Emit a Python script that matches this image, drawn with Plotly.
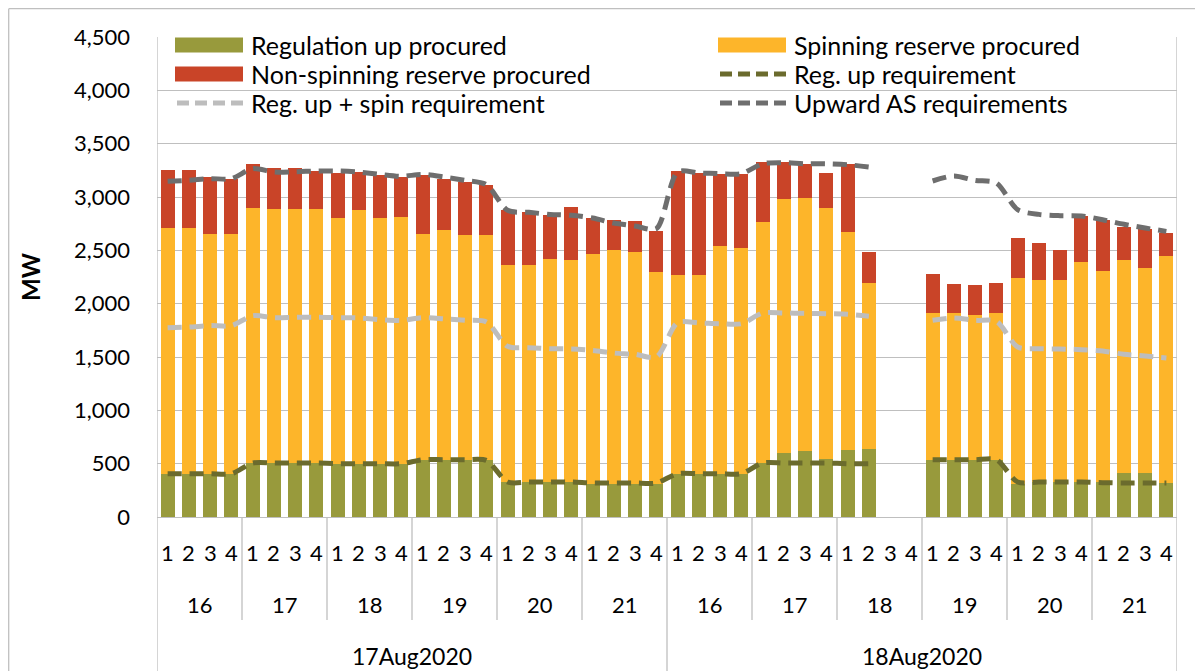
import plotly.graph_objects as go

# ---------------- data ----------------
dates = ["17Aug2020", "18Aug2020"]
hours = ["16", "17", "18", "19", "20", "21"]
intervals = ["1", "2", "3", "4"]

reg_up_procured = [
    400, 400, 400, 400, 506, 506, 506, 506, 500, 500, 500, 500,
    537, 537, 537, 531, 328, 328, 328, 328, 312, 312, 312, 312,
    406, 406, 406, 406, 506, 600, 616, 541, 631, 634, None, None,
    531, 531, 531, 531, 309, 328, 328, 328, 328, 412, 412, 319,
]
spin_procured = [
    2312, 2312, 2253, 2253, 2388, 2381, 2381, 2378, 2300, 2375, 2300, 2312,
    2113, 2150, 2107, 2116, 2038, 2038, 2094, 2084, 2154, 2188, 2172, 1982,
    1860, 1860, 2131, 2113, 2256, 2384, 2378, 2353, 2044, 1560, None, None,
    1381, 1378, 1366, 1381, 1928, 1897, 1897, 2063, 1975, 2000, 1919, 2131,
]
nonspin_procured = [
    538, 538, 537, 516, 418, 382, 388, 360, 425, 356, 409, 372,
    559, 485, 497, 462, 515, 493, 412, 491, 334, 287, 291, 384,
    978, 959, 682, 700, 563, 344, 318, 331, 631, 293, None, None,
    363, 278, 278, 285, 375, 344, 275, 428, 478, 307, 366, 216,
]
reg_up_req = [
    406, 406, 406, 406, 506, 506, 506, 506, 500, 500, 500, 500,
    537, 537, 537, 531, 328, 328, 328, 328, 319, 319, 319, 319,
    406, 406, 406, 406, 506, 506, 506, 506, 500, 500, None, None,
    537, 537, 537, 537, 328, 328, 328, 328, 322, 319, 319, 319,
]
reg_spin_req = [
    1775, 1781, 1794, 1794, 1887, 1869, 1872, 1872, 1869, 1866, 1850, 1844,
    1869, 1859, 1844, 1828, 1600, 1587, 1578, 1575, 1562, 1537, 1525, 1500,
    1822, 1819, 1812, 1812, 1912, 1912, 1909, 1906, 1900, 1881, None, None,
    1844, 1866, 1844, 1834, 1594, 1578, 1575, 1569, 1556, 1525, 1509, 1491,
]
upward_as_req = [
    3147, 3156, 3172, 3172, 3266, 3234, 3237, 3244, 3244, 3234, 3212, 3194,
    3212, 3187, 3156, 3116, 2875, 2856, 2837, 2828, 2803, 2756, 2728, 2703,
    3234, 3225, 3219, 3219, 3312, 3322, 3312, 3312, 3303, 3281, None, None,
    3150, 3197, 3156, 3131, 2881, 2837, 2825, 2822, 2787, 2744, 2709, 2678,
]
y_ticks = [0, 500, 1000, 1500, 2000, 2500, 3000, 3500, 4000, 4500]

# ---------------- styles ----------------
C_GREEN = "#989A3C"
C_ORANGE = "#FDB52A"
C_RED = "#C94428"
C_REQ_REG = "#6B6B2D"
C_REQ_SPIN = "#BDBDBD"
C_REQ_AS = "#6E6E6E"
GRID = "#BFBFBF"
FONT = "Lato"
FS_NUM = 22
FS_TXT = 25

cats = [f"{d}|{h}|{i}" for d in dates for h in hours for i in intervals]
n = len(cats)

fig = go.Figure()
for name, vals, col in [
    ("Regulation up procured", reg_up_procured, C_GREEN),
    ("Spinning reserve procured", spin_procured, C_ORANGE),
    ("Non-spinning reserve procured", nonspin_procured, C_RED),
]:
    fig.add_trace(go.Bar(x=cats, y=vals, name=name, marker=dict(color=col, line=dict(width=0)),
                         showlegend=False))

for name, vals, col in [
    ("Reg. up requirement", reg_up_req, C_REQ_REG),
    ("Reg. up + spin requirement", reg_spin_req, C_REQ_SPIN),
    ("Upward AS requirements", upward_as_req, C_REQ_AS),
]:
    fig.add_trace(go.Scatter(x=cats, y=vals, name=name, mode="lines", connectgaps=False,
                             line=dict(color=col, width=5, dash="14px,8px", shape="spline", smoothing=0.8),
                             showlegend=False))

# page layout (page pixel coordinates; the page body adds an 8px offset)
OFF = 8
PAGE_W, PAGE_H = 1203, 671
W, H = PAGE_W - OFF, PAGE_H - OFF
L, R, T, B = 157, 1177, 37, 517  # plot area in page px
PW, PH = R - L, B - T


def px_x(p):
    return (p - L) / PW


def px_y(p):
    return (B - p) / PH


shapes = []
annotations = []

# x-axis hierarchical labels
for k, c in enumerate(cats):
    annotations.append(dict(x=k, y=px_y(552), xref="x", yref="paper", text=c.split("|")[2],
                            xanchor="center", yanchor="middle",
                            showarrow=False, font=dict(family=FONT, size=FS_NUM, color="#000")))
ng = len(intervals)
for gi in range(len(dates) * len(hours)):
    annotations.append(dict(x=gi * ng + (ng - 1) / 2, y=px_y(604), xref="x", yref="paper",
                            text=hours[gi % len(hours)], showarrow=False,
                            xanchor="center", yanchor="middle",
                            font=dict(family=FONT, size=FS_NUM, color="#000")))
    if gi > 0 and gi % len(hours) != 0:
        shapes.append(dict(type="line", xref="x", yref="paper", x0=gi * ng - 0.5, x1=gi * ng - 0.5,
                           y0=0, y1=px_y(620), line=dict(color=GRID, width=1.3)))
nd = len(hours) * ng
for di, d in enumerate(dates):
    annotations.append(dict(x=di * nd + (nd - 1) / 2, y=px_y(656), xref="x", yref="paper", text=d,
                            xanchor="center", yanchor="middle",
                            showarrow=False, font=dict(family=FONT, size=23, color="#000")))
for di in range(len(dates) + 1):
    xx = di * nd - 0.5
    shapes.append(dict(type="line", xref="x", yref="paper", x0=xx, x1=xx, y0=1 if di in (0, len(dates)) else 0,
                       y1=px_y(PAGE_H + 5), line=dict(color=GRID, width=1.3)))

# outer chart border (top and left)
bx, by = OFF + 0.7, OFF + 0.7
shapes.append(dict(type="line", xref="paper", yref="paper", x0=px_x(bx), x1=px_x(PAGE_W + 5), y0=px_y(by), y1=px_y(by),
                   line=dict(color=GRID, width=1.3)))
shapes.append(dict(type="line", xref="paper", yref="paper", x0=px_x(bx), x1=px_x(bx), y0=px_y(by), y1=px_y(PAGE_H + 5),
                   line=dict(color=GRID, width=1.3)))

# manual legend
legend_items = [
    ("Regulation up procured", "bar", C_GREEN, 175, 45),
    ("Spinning reserve procured", "bar", C_ORANGE, 718, 45),
    ("Non-spinning reserve procured", "bar", C_RED, 175, 74),
    ("Reg. up requirement", "line", C_REQ_REG, 718, 74),
    ("Reg. up + spin requirement", "line", C_REQ_SPIN, 175, 103),
    ("Upward AS requirements", "line", C_REQ_AS, 718, 103),
]
for text, kind, col, x0, yc in legend_items:
    if kind == "bar":
        shapes.append(dict(type="rect", xref="paper", yref="paper", x0=px_x(x0), x1=px_x(x0 + 68),
                           y0=px_y(yc + 7.5), y1=px_y(yc - 7.5), fillcolor=col, line=dict(width=0)))
    else:
        shapes.append(dict(type="line", xref="paper", yref="paper", x0=px_x(x0 + 2), x1=px_x(x0 + 68),
                           y0=px_y(yc), y1=px_y(yc), line=dict(color=col, width=5, dash="12px,6px")))
    annotations.append(dict(x=px_x(x0 + 74), y=px_y(yc), xref="paper", yref="paper", text=text,
                            xanchor="left", yanchor="middle", showarrow=False,
                            font=dict(family=FONT, size=FS_TXT, color="#000")))

# y-axis title
annotations.append(dict(x=px_x(30), y=px_y(277), xref="paper", yref="paper", text="<b>MW</b>",
                        xanchor="center", yanchor="middle",
                        textangle=-90, showarrow=False, font=dict(family=FONT, size=24, color="#000")))

fig.update_layout(
    width=W, height=H,
    margin=dict(l=L - OFF, r=PAGE_W - R, t=T - OFF, b=PAGE_H - B, autoexpand=False),
    paper_bgcolor="white", plot_bgcolor="white",
    barmode="stack", bargap=0.33,
    showlegend=False,
    shapes=shapes, annotations=annotations,
    font=dict(family=FONT, size=FS_NUM, color="#000"),
    xaxis=dict(type="category", categoryorder="array", categoryarray=cats, range=[-0.5, n - 0.5],
               showticklabels=False, showgrid=False, zeroline=False,
               showline=True, linecolor=GRID, linewidth=1.3, ticks=""),
    yaxis=dict(range=[0, 4500], tickvals=y_ticks, tickformat=",", showgrid=True, gridcolor=GRID,
               gridwidth=1.3, zeroline=False, showline=False, ticks="", ticklabelstandoff=26,
               tickfont=dict(family=FONT, size=FS_NUM, color="#000")),
)

fig.write_html("out.html")
